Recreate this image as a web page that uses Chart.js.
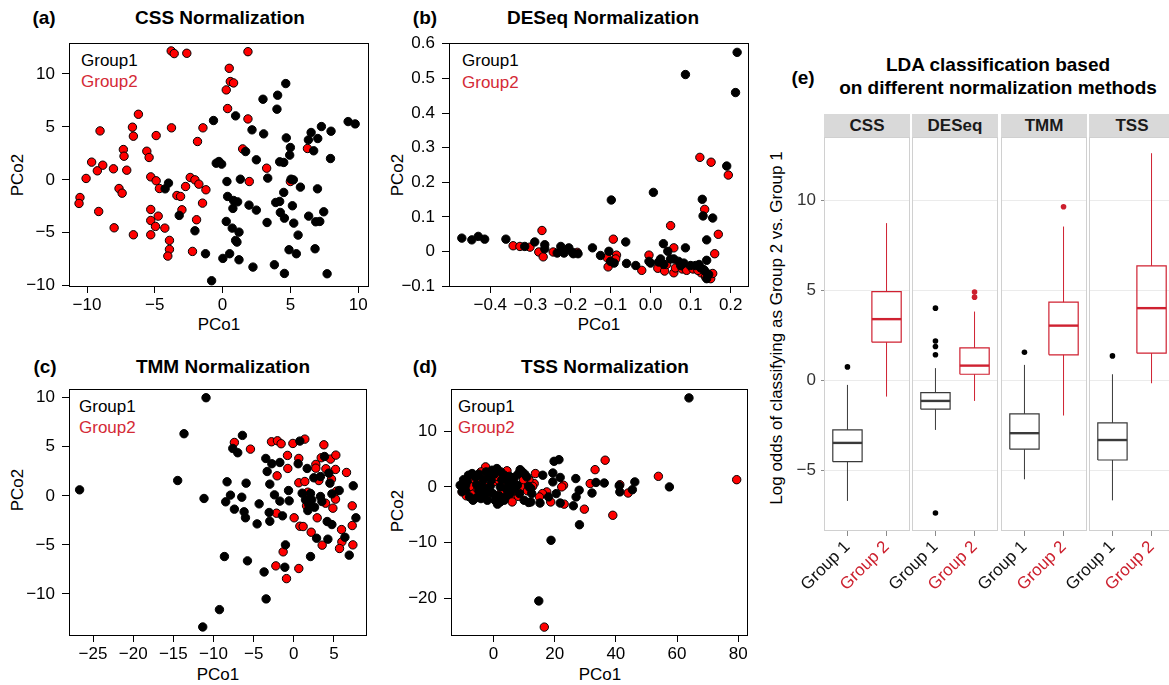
<!DOCTYPE html>
<html>
<head>
<meta charset="utf-8">
<script src="https://cdn.jsdelivr.net/npm/chart.js@4.4.1/dist/chart.umd.min.js"></script>
<style>
  body { margin: 0; width: 1169px; height: 685px; overflow: hidden; background: #fff; position: relative;
         font-family: "Liberation Sans", Arial, sans-serif; }
  canvas { position: absolute; }
  .c { position: absolute; white-space: nowrap; transform: translate(-50%, -50%); }
  .l { position: absolute; white-space: nowrap; transform: translateY(-50%); font-size: 17px; }
  .ttl { font-weight: bold; font-size: 19px; }
  .ax { font-size: 17px; }
  .rot { transform: translate(-50%, -50%) rotate(-90deg); }
  .red { color: #d42a36; }
  .strip { position: absolute; top: 114px; height: 23px; width: 86px; background: #d9d9d9;
           font-weight: bold; font-size: 17px; line-height: 23px; text-align: center; color: #1a1a1a; }
</style>
</head>
<body>
<!-- panel titles -->
<div class="c ttl" style="left:44px;top:18px">(a)</div>
<div class="c ttl" style="left:220px;top:18px">CSS Normalization</div>
<div class="c ttl" style="left:425px;top:18px">(b)</div>
<div class="c ttl" style="left:603px;top:18px">DESeq Normalization</div>
<div class="c ttl" style="left:45px;top:367px">(c)</div>
<div class="c ttl" style="left:223px;top:367px">TMM Normalization</div>
<div class="c ttl" style="left:425px;top:367px">(d)</div>
<div class="c ttl" style="left:605px;top:367px">TSS Normalization</div>
<div class="c ttl" style="left:803px;top:78px">(e)</div>
<div class="c ttl" style="left:998px;top:65px">LDA classification based</div>
<div class="c ttl" style="left:998px;top:88px">on different normalization methods</div>

<!-- axis titles -->
<div class="c ax" style="left:219px;top:325px">PCo1</div>
<div class="c ax" style="left:599px;top:325px">PCo1</div>
<div class="c ax" style="left:218px;top:675px">PCo1</div>
<div class="c ax" style="left:600px;top:675px">PCo1</div>
<div class="c ax rot" style="left:18px;top:175px">PCo2</div>
<div class="c ax rot" style="left:398px;top:175px">PCo2</div>
<div class="c ax rot" style="left:18px;top:490px">PCo2</div>
<div class="c ax rot" style="left:398px;top:511px">PCo2</div>
<div class="c ax rot" style="left:777px;top:328px">Log odds of classifying as Group 2 vs. Group 1</div>

<!-- legends -->
<div class="l" style="left:81px;top:61px">Group1</div>
<div class="l red" style="left:81px;top:82px">Group2</div>
<div class="l" style="left:462px;top:61px">Group1</div>
<div class="l red" style="left:462px;top:83px">Group2</div>
<div class="l" style="left:79px;top:407px">Group1</div>
<div class="l red" style="left:79px;top:428px">Group2</div>
<div class="l" style="left:458px;top:407px">Group1</div>
<div class="l red" style="left:458px;top:428px">Group2</div>

<script>
// ---- scatter data (PCo1, PCo2) ----
const cssGroup1 = [[-0.67,5.6],[0.96,6.04],[2.98,7.61],[4.06,7.99],[4.01,6.67],[4.66,9.09],[2.17,4.72],[3.03,4.34],
  [4.7,3.96],[5.0,3.05],[4.95,2.33],[1.7,2.67],[2.49,1.89],[4.21,1.7],[4.51,1.64],[6.33,3.77],[6.53,4.47],[7.02,3.9],
  [6.72,2.74],[7.29,5.03],[8.0,4.59],[7.96,2.01],[9.26,5.5],[9.78,5.28],[-0.47,1.57],[-0.27,1.73],[-0.07,1.48],
  [0.32,-0.16],[1.31,0.06],[3.33,0.16],[5.05,0.06],[5.22,0],[5.74,-0.69],[4.51,-1.19],[7.0,-0.85],[0.37,-1.57],
  [0.81,-1.95],[1.11,-2.08],[0.76,-2.7],[1.95,-2.39],[2.49,-2.86],[3.92,-2.14],[4.21,-2.04],[4.26,-3.08],[4.56,-3.62],
  [5.15,-2.45],[6.35,-3.43],[7.46,-3.02],[6.87,-3.96],[7.17,-3.93],[3.28,-4.03],[5.25,-4.09],[0.27,-3.93],[0.71,-4.56],
  [1.21,-4.94],[0.96,-5.72],[1.06,-5.88],[5.57,-5.22],[4.9,-6.6],[5.44,-6.98],[6.82,-6.51],[0.52,-6.98],[0.02,-7.42],
  [1.21,-7.55],[2.24,-8.24],[3.82,-8.02],[4.56,-8.84],[7.71,-8.87],[-0.81,-9.53],[-1.26,-6.98],[-2.04,-4.81],
  [-3.2,-3.36],[-4.24,-0.85],[-3.99,-0.31]];
const cssGroup2 = [[-3.79,12.17],[-3.57,11.92],[-2.64,11.95],[1.87,12.1],[0.49,10.53],[0.57,9.28],[0.81,9.15],
  [0.27,8.49],[0.37,6.73],[1.87,5.75],[-6.21,6.19],[-9.04,4.62],[-6.65,4.97],[-6.58,4.12],[-4.9,4.18],[-3.77,4.91],
  [-1.45,4.91],[-1.85,3.62],[1.48,2.92],[6.26,2.96],[-7.32,2.86],[-7.27,2.23],[-5.59,2.7],[-5.42,2.11],[-9.66,1.67],
  [-8.84,1.38],[-9.24,0.85],[-10.07,0.13],[-8.05,1.04],[-7.07,0.91],[-5.3,0.28],[-4.9,-0.09],[-4.66,-0.82],
  [-7.64,-0.82],[-7.41,-1.26],[-10.52,-1.67],[-10.59,-2.23],[-9.14,-2.99],[-8.0,-4.53],[-6.58,-5.19],[-5.3,-2.8],
  [-5.3,-3.84],[-4.75,-3.43],[-4.95,-4.4],[-4.26,-4.56],[-5.3,-5.19],[-3.92,-5.72],[-3.92,-6.57],[-4.04,-7.2],
  [-3.37,-1.48],[-3.1,-1.57],[-3.0,-2.83],[-2.73,-0.63],[-2.39,0.22],[-2.04,0],[-1.75,-0.41],[-1.23,-0.94],
  [-1.48,-2.2],[-1.92,-3.77],[-2.22,-6.76],[1.97,-0.16],[3.25,1.1],[5.0,-0.16]];

const deseqGroup1 = [[-0.471,0.039],[-0.446,0.034],[-0.43,0.044],[-0.414,0.036],[-0.361,0.036],[-0.314,0.015],
  [-0.289,0.028],[-0.264,0.02],[-0.264,0.008],[-0.224,0.015],[-0.233,-0.004],[-0.216,-0.004],[-0.204,0.011],
  [-0.195,-0.002],[-0.193,-0.006],[-0.181,-0.006],[-0.145,0.011],[-0.125,-0.011],[-0.104,0.001],[-0.098,0.149],
  [-0.1,-0.028],[-0.091,-0.033],[-0.062,0.028],[-0.06,-0.034],[-0.037,-0.04],[-0.004,-0.028],[0,-0.033],
  [0.007,0.171],[0.032,0.023],[0.025,-0.021],[0.033,-0.037],[0.043,0.001],[0.05,-0.021],[0.058,-0.021],
  [0.083,-0.033],[0.087,0.511],[0.087,0.011],[0.1,-0.04],[0.112,-0.04],[0.129,0.151],[0.131,0.103],[0.14,0.034],
  [0.14,-0.025],[0.133,-0.052],[0.155,0.097],[0.19,0.247],[0.212,0.459],[0.216,0.575],[0.121,-0.037],
  [0.125,-0.047],[0.137,-0.058],[0.145,-0.066],[0.14,-0.078],[0.07,-0.028],[0.075,-0.04],[0.02,-0.03]];
const deseqGroup2 = [[-0.343,0.017],[-0.326,0.015],[-0.301,0.013],[-0.271,0.061],[-0.279,-0.001],[-0.268,-0.015],
  [-0.243,-0.001],[-0.183,-0.002],[-0.108,-0.018],[-0.106,-0.044],[-0.093,0.036],[-0.085,-0.01],[-0.087,-0.021],
  [-0.022,-0.054],[-0.004,-0.01],[0.018,-0.048],[0.035,-0.056],[0.04,-0.037],[0.05,0.075],[0.058,0.011],
  [0.058,-0.061],[0.062,-0.047],[0.079,-0.05],[0.081,-0.042],[0.09,-0.054],[0.1,-0.042],[0.106,-0.05],
  [0.123,0.272],[0.135,0.122],[0.151,0.258],[0.194,0.221],[0.169,0.05],[0.16,-0.006],[0.126,-0.061],
  [0.137,-0.073],[0.15,-0.078],[0.155,-0.063],[0.118,-0.054]];

const tmmGroup1 = [[-26.67,0.61],[-10.93,10.0],[-13.67,6.33],[-14.46,1.56],[-11.18,-0.27],[-6.4,6.16],[-7.6,4.83],
  [-6.98,4.39],[-8.31,1.43],[-7.89,0.07],[-8.48,-0.61],[-7.4,-1.36],[-6.48,-0.14],[-5.94,1.29],[-6.19,-1.63],
  [-6.02,-2.24],[-4.57,-2.86],[-4.32,-0.82],[-8.64,-6.19],[-5.77,-6.63],[-3.7,-7.76],[-3.45,-10.51],[-9.26,-11.6],
  [-11.34,-13.37],[-3.49,3.81],[-3.32,2.48],[-2.74,3.27],[-2.99,1.19],[-2.41,0.1],[-3.07,-1.7],[-2.99,-2.59],
  [-1.74,3.4],[-1.74,-0.54],[-1.41,-2.04],[-1.04,-5.0],[-1.12,-7.28],[-0.66,0.54],[-0.58,-0.51],[0.54,3.27],
  [0.75,5.58],[1.66,2.79],[2.08,0.24],[2.24,-0.41],[2.58,-1.16],[3.32,-0.07],[2.83,-4.32],[2.08,-6.19],[3.49,-0.58],
  [3.82,4.01],[4.15,-2.62],[4.24,-4.42],[4.49,1.29],[4.74,0.2],[4.74,-2.93],[5.65,0.54],[6.36,-4.22],[6.9,-6.05],
  [7.4,1.02],[7.73,-2.24],[1.04,0.27],[1.45,-0.41],[1.87,-0.92],[2.49,1.84],[3.32,1.97],[4.36,2.31],[1.74,-1.5]];
const tmmGroup2 = [[-7.4,5.44],[-5.4,4.76],[-2.78,5.51],[-2.04,5.61],[-1.58,5.31],[-0.12,5.34],[1.37,5.78],
  [3.74,5.2],[-0.79,4.12],[0.62,3.81],[-0.75,2.79],[-2.08,2.04],[0.62,1.33],[1.37,1.46],[1.74,0.37],[2.74,3.2],
  [2.74,2.82],[3.41,3.88],[4.57,3.74],[5.23,4.15],[3.99,2.76],[5.19,2.69],[6.56,2.38],[3.12,1.56],[4.69,1.7],
  [5.32,0.48],[5.19,-0.34],[1.58,-1.02],[3.95,-0.75],[4.86,-1.26],[7.27,-1.02],[0.04,-2.24],[-2.16,-1.77],
  [2.91,-2.24],[0.75,-3.1],[1.16,-3.13],[2.16,-3.71],[5.94,-3.44],[7.27,-3.03],[5.98,-4.69],[3.53,-5.03],
  [5.69,-5.37],[7.35,-5.0],[-1.33,-5.71],[-2.24,-7.14],[0.62,-7.41],[-0.91,-8.44]];

const tssGroup1 = [[63.9,16.0],[57.5,0],[46.2,0.9],[45.4,-0.5],[41.1,0.2],[41.3,-0.9],[36.2,0.7],[33.5,0.8],
  [32.2,-1.1],[28.0,-0.6],[27.0,-1.8],[26.1,-3.4],[28.1,-6.8],[26.9,1.5],[21.4,4.9],[19.8,4.6],[21.8,1.7],
  [19.4,2.5],[19.4,0.9],[20.5,-1.2],[21.8,-2.9],[18.8,-9.6],[14.8,-20.5],[16.1,2.1],[15.2,-2.9],[12.2,-2.7],
  [12.5,-1.2],[18.0,-1.8],[-10.9,0.3],[-9.8,1.3],[-9.2,-0.6],[-7.8,-1.8],[-6.7,-2.4],[-6.0,1.8],[-4.8,2.3],
  [-3.3,1.3],[-2.4,2.7],[-1.3,1.8],[-0.5,3.0],[0.2,2.3],[-1.1,0.1],[-0.2,-1.2],[0.5,-2.4],[1.3,-3.1],[2.2,-2.7],
  [2.7,1.3],[3.5,2.1],[4.1,-0.3],[4.4,-1.5],[5.2,1.9],[6.0,0.9],[7.0,1.8],[8.2,2.4],[8.7,3.1],[9.4,2.7],
  [10.2,2.3],[10.9,1.8],[11.5,0.1],[12.2,-0.3],[-2.0,-2.4],[-4.1,-2.1],[-5.4,-1.9],[-3.5,0],[-4.8,-0.6],[2.2,0],
  [3.5,-2.4],[2.4,2.7],[1.1,3.3],[-9.1,0.3],[-8.2,2.1],[-7.0,2.4],[-2.8,-1.2],[-1.6,-0.9],[5.4,-1.2],[6.5,-0.3],
  [7.8,0.3],[8.5,-1.2],[10.0,-2.4],[11.5,-2.8],[-10.2,-0.8],[-8.6,1.0],[-5.5,0.4],[-0.8,1.2],[1.8,-1.6],[4.8,0.7]];
const tssGroup2 = [[79.5,1.3],[53.9,1.9],[36.5,4.8],[33.2,3.1],[31.6,0.6],[39.0,-5.1],[29.7,-4.0],[44.0,-1.1],
  [41.3,0.4],[22.9,0.3],[23.1,-3.1],[22.3,0],[18.7,-2.7],[17.4,-0.9],[16.0,-1.2],[16.6,-25.2],[15.0,-1.8],
  [13.7,2.4],[13.3,0.6],[11.6,1.3],[10.4,0.3],[-2.6,3.6],[-7.1,1.0],[-8.5,-0.3],[-10.3,-0.9],[-8.9,-1.6],[-5.2,0.6],
  [-4.4,-1.1],[-2.2,0],[0,0.9],[1.7,1.2],[3.5,0.6],[5.2,0.2],[5.9,-1.7],[6.1,-2.7],[7.6,-0.6],[8.1,-1.7],[9.1,0],
  [9.8,1.3],[-1.1,2.6],[1.1,1.9],[3.3,2.3],[4.8,1.8],[-3.7,1.8],[-6.5,-1.2],[2.6,-0.9],[1.1,-1.8],[-2.4,-1.8],
  [-5.4,-0.3],[-7.6,0.1],[6.7,0.7],[11.1,-0.7],[12.8,0.1],[-4.1,2.7],[4.4,2.9]];

// ---- axis ticks ----
const ticksA = { x: [-10, -5, 0, 5, 10], y: [-10, -5, 0, 5, 10] };
const labelsA = { x: ["\u221210", "\u22125", "0", "5", "10"], y: ["\u221210", "\u22125", "0", "5", "10"] };
const ticksB = { x: [-0.4, -0.3, -0.2, -0.1, 0, 0.1, 0.2], y: [-0.1, 0, 0.1, 0.2, 0.3, 0.4, 0.5, 0.6] };
const labelsB = { x: ["\u22120.4", "\u22120.3", "\u22120.2", "\u22120.1", "0.0", "0.1", "0.2"],
                  y: ["\u22120.1", "0", "0.1", "0.2", "0.3", "0.4", "0.5", "0.6"] };
const ticksC = { x: [-25, -20, -15, -10, -5, 0, 5], y: [-10, -5, 0, 5, 10] };
const labelsC = { x: ["\u221225", "\u221220", "\u221215", "\u221210", "\u22125", "0", "5"],
                  y: ["\u221210", "\u22125", "0", "5", "10"] };
const ticksD = { x: [0, 20, 40, 60, 80], y: [-20, -10, 0, 10] };
const labelsD = { x: ["0", "20", "40", "60", "80"], y: ["\u221220", "\u221210", "0", "10"] };

// ---- boxplot data: [lower whisker, Q1, median, Q3, upper whisker] ----
const methods = ["CSS", "DESeq", "TMM", "TSS"];
const groupNames = ["Group 1", "Group 2"];
const group1Stats = [[-6.7, -4.52, -3.48, -2.76, -0.26], [-2.76, -1.61, -1.15, -0.69, 0.67],
                     [-5.5, -3.83, -2.94, -1.87, 0.85], [-6.67, -4.43, -3.32, -2.37, 0.33]];
const group2Stats = [[-0.91, 2.11, 3.39, 4.92, 8.72], [-1.15, 0.33, 0.81, 1.79, 3.81],
                     [-1.96, 1.41, 3.03, 4.33, 8.53], [-0.17, 1.5, 4.0, 6.35, 12.6]];
const group1Outliers = [[0.74], [4.0, 2.18, 1.87, 1.41, -7.37], [1.55], [1.35]];
const group2Outliers = [[], [4.89, 4.61], [9.63], []];
const logOddsTicks = [-5, 0, 5, 10];
const logOddsLabels = ["\u22125", "0", "5", "10"];

const FONT = "'Liberation Sans', Arial, sans-serif";
Chart.defaults.font.family = FONT;

// draws a rectangle round the plot area
const frame = {
  id: "frame",
  beforeDatasetsDraw(chart, args, opts) {
    if (opts.after) return;
    box(chart, opts);
  },
  afterDatasetsDraw(chart, args, opts) {
    if (opts.after) box(chart, opts);
  }
};
function box(chart, opts) {
  const a = chart.chartArea, ctx = chart.ctx;
  ctx.save();
  ctx.strokeStyle = opts.color || "#000";
  ctx.lineWidth = 1;
  ctx.strokeRect(Math.round(a.left) + 0.5, Math.round(a.top) + 0.5,
                 Math.round(a.right - a.left) - 1, Math.round(a.bottom - a.top) - 1);
  ctx.restore();
}

function makeCanvas(left, top, width, height) {
  const c = document.createElement("canvas");
  c.width = width;
  c.height = height;
  c.style.left = left + "px";
  c.style.top = top + "px";
  document.body.appendChild(c);
  return c;
}

function pts(arr) {
  return arr.map((p) => ({ x: p[0], y: p[1] }));
}

// plot box given in page pixels, axes ranges in data units
function scatterPanel(plotBox, xr, yr, g1, g2, ticks, labels) {
  const yW = 60, padT = 20, padR = 15, xH = 36;
  const canvas = makeCanvas(plotBox.l - yW, plotBox.t - padT,
    plotBox.r - plotBox.l + yW + padR, plotBox.b - plotBox.t + padT + xH);
  new Chart(canvas, {
    type: "scatter",
    data: {
      datasets: [
        { data: pts(g1), backgroundColor: "#000", borderColor: "#000", clip: false },
        { data: pts(g2), backgroundColor: "#ff0000", borderColor: "#000", clip: false },
      ],
    },
    options: {
      responsive: false,
      animation: false,
      events: [],
      layout: { padding: { top: padT, right: padR, left: 0, bottom: 0 } },
      elements: { point: { radius: 4.2, borderWidth: 1 } },
      plugins: { legend: { display: false }, tooltip: { enabled: false }, frame: {} },
      scales: {
        x: {
          type: "linear", min: xr[0], max: xr[1],
          afterBuildTicks: (s) => { s.ticks = ticks.x.map((v) => ({ value: v })); },
          afterFit: (s) => { s.height = xH; s.paddingLeft = 0; s.paddingRight = 0; },
          ticks: { autoSkip: false, maxRotation: 0, color: "#000", font: { size: 17 }, padding: 2,
                   callback: (v, i) => labels.x[i] },
          grid: { drawOnChartArea: false, tickLength: 6, color: "#000" },
          border: { display: false },
        },
        y: {
          type: "linear", min: yr[0], max: yr[1],
          afterBuildTicks: (s) => { s.ticks = ticks.y.map((v) => ({ value: v })); },
          afterFit: (s) => { s.width = yW; s.paddingTop = 0; s.paddingBottom = 0; },
          ticks: { autoSkip: false, color: "#000", font: { size: 17 }, padding: 7,
                   callback: (v, i) => labels.y[i] },
          grid: { drawOnChartArea: false, tickLength: 7, color: "#000" },
          border: { display: false },
        },
      },
    },
    plugins: [frame],
  });
}

scatterPanel({ l: 69, t: 43, r: 369, b: 287 }, [-11.33, 10.8], [-10.12, 12.92], cssGroup1, cssGroup2, ticksA, labelsA);
scatterPanel({ l: 449, t: 43, r: 749, b: 287 }, [-0.503, 0.2456], [-0.102, 0.602], deseqGroup1, deseqGroup2, ticksB, labelsB);
scatterPanel({ l: 69, t: 389, r: 367, b: 636 }, [-27.99, 9.11], [-14.29, 10.89], tmmGroup1, tmmGroup2, ticksC, labelsC);
scatterPanel({ l: 451, t: 389, r: 748, b: 636 }, [-13.9, 83.2], [-26.8, 17.6], tssGroup1, tssGroup2, ticksD, labelsD);

// ---- panel (e): one small chart per method ----
const boxColors = ["#3a3a3a", "#cf2131"];
const pointColors = ["#000", "#cc1f2d"];
const facetLeft = [824, 912, 1001, 1089];

function line(points, color, width) {
  return { data: pts(points), showLine: true, borderColor: color, borderWidth: width,
           pointRadius: 0, clip: false, tension: 0 };
}

function boxDatasets(f) {
  const sets = [];
  [group1Stats, group2Stats].forEach((stats, gi) => {
    const [lo, q1, med, q3, hi] = stats[f];
    const g = gi + 1, hw = 0.375, col = boxColors[gi];
    sets.push(line([[g, lo], [g, q1]], col, 1));
    sets.push(line([[g, q3], [g, hi]], col, 1));
    sets.push(line([[g - hw, q1], [g + hw, q1], [g + hw, q3], [g - hw, q3], [g - hw, q1]], col, 1.2));
    sets.push(line([[g - hw, med], [g + hw, med]], col, 2.4));
    const outs = (gi === 0 ? group1Outliers : group2Outliers)[f];
    sets.push({ data: outs.map((y) => ({ x: g, y: y })), pointRadius: 2.8, borderWidth: 0,
                backgroundColor: pointColors[gi], clip: false });
  });
  return sets;
}

methods.forEach((m, f) => {
  const strip = document.createElement("div");
  strip.className = "strip";
  strip.style.left = facetLeft[f] + "px";
  strip.textContent = m;
  document.body.appendChild(strip);

  const yW = 60, padT = 20, padR = 10, xH = 154;
  const canvas = makeCanvas(facetLeft[f] - yW, 137 - padT, 86 + yW + padR, 685 - 137 + padT);
  new Chart(canvas, {
    type: "scatter",
    data: { datasets: boxDatasets(f) },
    options: {
      responsive: false,
      animation: false,
      events: [],
      layout: { padding: { top: padT, right: padR, left: 0, bottom: 0 } },
      plugins: { legend: { display: false }, tooltip: { enabled: false }, frame: { color: "#d0d0d0", after: true } },
      scales: {
        x: {
          type: "linear", min: 0.4, max: 2.6,
          afterBuildTicks: (s) => { s.ticks = [1, 2].map((v) => ({ value: v })); },
          afterFit: (s) => { s.height = xH; s.paddingLeft = 0; s.paddingRight = 0; },
          ticks: { autoSkip: false, minRotation: 45, maxRotation: 45, font: { size: 17 }, padding: 1,
                   color: (c) => (c.index === 0 ? "#111" : "#cc1f2d"),
                   callback: (v, i) => groupNames[i] },
          grid: { drawOnChartArea: false, tickLength: 5, color: "#8a8a8a" },
          border: { display: false },
        },
        y: {
          type: "linear", min: -8.37, max: 13.5,
          afterBuildTicks: (s) => { s.ticks = logOddsTicks.map((v) => ({ value: v })); },
          afterFit: (s) => { s.width = yW; s.paddingTop = 0; s.paddingBottom = 0; },
          ticks: { display: f === 0, color: "#333", font: { size: 17 }, padding: 5,
                   callback: (v, i) => logOddsLabels[i] },
          grid: { drawTicks: f === 0, tickLength: 3, tickColor: "#8a8a8a", color: "#ebebeb", lineWidth: 1 },
          border: { display: false },
        },
      },
    },
    plugins: [frame],
  });
});
</script>
</body>
</html>
